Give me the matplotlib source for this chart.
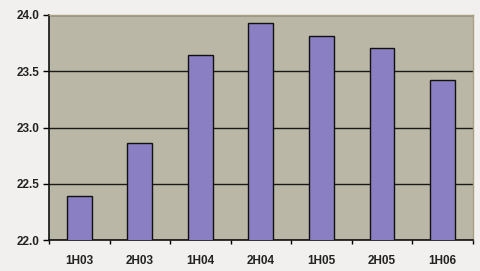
import matplotlib
matplotlib.use("Agg")
import matplotlib.pyplot as plt
import numpy as np

periods = ["1H03", "2H03", "1H04", "2H04", "1H05", "2H05", "1H06"]
values = [22.39, 22.865, 23.64, 23.93, 23.81, 23.71, 23.42]
yticks = [22.0, 22.5, 23.0, 23.5, 24.0]

plt.rcParams["font.family"] = ["Liberation Sans", "DejaVu Sans"]

fig = plt.figure(figsize=(4.8, 2.71), dpi=100, facecolor="#f1f0ee")
ax = fig.add_axes([0.102, 0.114, 0.883, 0.831])
ax.set_facecolor("#bbb7a6")

x = np.arange(len(periods))
ax.bar(x, values, width=0.41, bottom=0, color="#8a7fc2", edgecolor="#111111",
       linewidth=1.0, zorder=3)

ax.set_ylim(22.0, 24.0)
ax.set_xlim(-0.5, len(periods) - 0.5)
ax.set_yticks(yticks)
ax.set_yticklabels([f"{v:.1f}" for v in yticks], fontsize=8.5, fontweight="bold",
                   color="#222222")
ax.set_xticks(x)
ax.set_xticklabels(periods, fontsize=8.5, fontweight="bold", color="#222222")
ax.set_xticks(np.arange(-0.5, len(periods)), minor=True)
ax.tick_params(axis="x", which="major", length=0, pad=11)
ax.tick_params(axis="x", which="minor", length=3, width=1, direction="out")
ax.tick_params(axis="y", length=4, width=1, direction="out", pad=3)

ax.yaxis.grid(True, color="#1a1a1a", linewidth=1.0, zorder=1)
ax.set_axisbelow(True)

for side in ["left", "bottom"]:
    ax.spines[side].set_color("#111111")
    ax.spines[side].set_linewidth(1.2)
for side in ["top", "right"]:
    ax.spines[side].set_color("#a89f80")
    ax.spines[side].set_linewidth(1.0)

fig.savefig("out.png", dpi=100, facecolor=fig.get_facecolor())
